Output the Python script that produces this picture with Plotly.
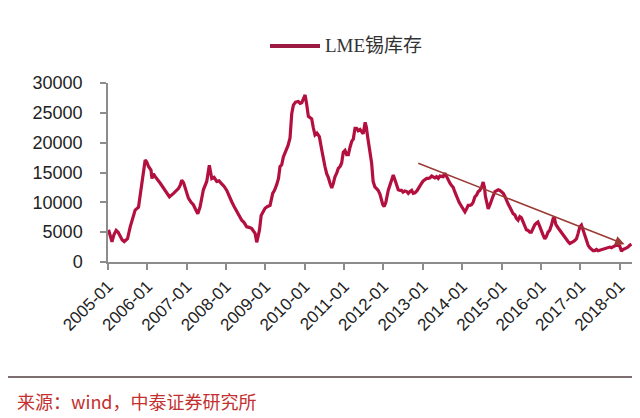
import plotly.graph_objects as go

dates = [
"2005-01-06","2005-01-22","2005-02-07","2005-02-24","2005-03-18","2005-04-05","2005-04-24","2005-05-13","2005-06-01","2005-07-01",
"2005-07-26","2005-08-17","2005-09-10","2005-10-11","2005-10-27","2005-11-12","2005-11-27","2005-12-12","2005-12-26","2006-01-12",
"2006-02-04","2006-02-13","2006-02-27","2006-03-15","2006-05-01","2006-05-31","2006-07-01","2006-07-25","2006-09-01","2006-09-25",
"2006-10-16","2006-11-01","2006-11-16","2006-12-03","2006-12-17","2007-01-17","2007-02-11","2007-03-04","2007-03-25","2007-04-14",
"2007-05-05","2007-06-05","2007-07-06","2007-07-21","2007-07-30","2007-08-22","2007-09-12","2007-10-07","2007-10-28","2007-11-22",
"2007-12-13","2008-01-08","2008-01-30","2008-02-23","2008-03-16","2008-04-10","2008-05-01","2008-05-26","2008-06-17","2008-07-11",
"2008-08-02","2008-08-27","2008-09-11","2008-09-27","2008-10-12","2008-10-25","2008-11-06","2008-11-22","2008-12-13","2008-12-28",
"2009-01-21","2009-02-13","2009-03-09","2009-03-26","2009-04-16","2009-05-02","2009-05-16","2009-06-01","2009-06-16","2009-07-02",
"2009-07-17","2009-07-29","2009-08-17","2009-09-02","2009-09-17","2009-10-07","2009-11-02","2009-11-18","2009-12-04","2009-12-18",
"2010-01-04","2010-01-18","2010-02-03","2010-02-19","2010-03-06","2010-03-21","2010-04-06","2010-04-24","2010-05-16","2010-06-07",
"2010-06-21","2010-07-07","2010-07-23","2010-08-07","2010-08-23","2010-09-08","2010-09-23","2010-10-08","2010-10-24","2010-11-08",
"2010-11-24","2010-12-09","2010-12-24","2011-01-09","2011-01-24","2011-02-09","2011-02-24","2011-03-12","2011-03-27","2011-04-12",
"2011-04-27","2011-05-12","2011-05-28","2011-06-12","2011-06-27","2011-07-15","2011-07-26","2011-08-07","2011-08-23","2011-09-13",
"2011-09-27","2011-10-13","2011-10-29","2011-11-13","2011-11-29","2011-12-14","2011-12-26","2012-01-08","2012-01-23","2012-02-14",
"2012-03-01","2012-03-19","2012-04-01","2012-04-16","2012-05-02","2012-05-17","2012-06-02","2012-06-17","2012-07-01","2012-07-18",
"2012-08-04","2012-08-18","2012-09-03","2012-09-19","2012-10-03","2012-10-19","2012-11-09","2012-12-04","2012-12-20","2013-01-04",
"2013-01-20","2013-02-05","2013-02-20","2013-03-07","2013-03-23","2013-04-07","2013-04-22","2013-05-08","2013-05-23","2013-06-08",
"2013-06-24","2013-07-08","2013-07-24","2013-08-09","2013-08-24","2013-09-09","2013-09-24","2013-10-09","2013-10-25","2013-11-15",
"2013-12-03","2013-12-26","2014-01-10","2014-01-26","2014-02-10","2014-02-25","2014-03-13","2014-03-28","2014-04-12","2014-04-28",
"2014-05-14","2014-05-29","2014-06-13","2014-06-29","2014-07-14","2014-07-26","2014-08-04","2014-08-15","2014-08-30","2014-09-15",
"2014-09-30","2014-10-15","2014-10-31","2014-11-16","2014-12-01","2014-12-16","2015-01-01","2015-01-16","2015-02-01","2015-02-16",
"2015-03-03","2015-03-18","2015-04-03","2015-04-18","2015-05-04","2015-05-18","2015-06-03","2015-06-19","2015-07-04","2015-07-19",
"2015-08-04","2015-08-19","2015-09-03","2015-09-19","2015-10-04","2015-10-19","2015-11-04","2015-11-19","2015-12-04","2015-12-20",
"2016-01-06","2016-01-21","2016-02-06","2016-02-21","2016-03-07","2016-03-22","2016-04-08","2016-04-23","2016-05-04","2016-05-18",
"2016-06-09","2016-06-25","2016-07-10","2016-07-25","2016-08-10","2016-08-26","2016-09-10","2016-09-25","2016-10-11","2016-10-26",
"2016-11-10","2016-11-26","2016-12-11","2016-12-27","2017-01-11","2017-01-26","2017-02-11","2017-02-27","2017-03-14","2017-03-29",
"2017-04-14","2017-04-29","2017-05-15","2017-05-30","2017-06-14","2017-07-01","2017-07-16","2017-07-31","2017-08-16","2017-09-01",
"2017-09-15","2017-10-01","2017-10-16","2017-10-31","2017-11-16","2017-12-01","2017-12-16","2018-01-01","2018-01-17","2018-02-01",
"2018-02-17","2018-03-04","2018-03-19","2018-04-04","2018-04-20",
]

stock = [
5400,4300,3400,4500,5300,5000,4200,3700,3400,3900,
5900,7300,8700,9200,11200,13200,14900,17100,16800,16000,
15400,14000,14800,14300,13200,12400,11500,10900,11500,11900,
12300,12800,13700,13300,12400,10700,10000,9600,8800,8100,
9200,12100,13500,15800,16200,14000,14200,13500,13600,13100,
12700,12000,11000,10100,9300,8400,7700,7000,6600,5900,
5800,5600,5200,4800,3300,4200,5300,7800,8700,9000,
9300,9500,11500,12000,13000,14000,16000,16300,17600,18300,
18900,19500,20800,24900,26300,26800,26900,26600,26700,27300,
28000,26500,24400,24200,24000,22500,21300,21600,21000,18800,
17200,16000,14800,14200,13200,12400,13200,14300,14900,15700,
16000,16600,18400,18700,18000,18000,19200,20200,20600,22400,
22400,22000,22200,21800,21500,23400,22600,21000,19000,16600,
13500,12600,12300,12000,11400,10200,9600,9300,10000,12000,
13000,14000,14600,13800,13100,12100,12000,12000,11700,11900,
11800,11500,11800,12000,11500,11600,12000,12900,13200,13600,
13800,14000,14000,14100,14400,14300,14100,14300,14000,14400,
14300,14300,14900,14300,13500,13200,12800,12500,11700,10700,
10000,9300,8900,8400,8900,9500,9500,9600,10000,10900,
11200,11800,12000,12500,13400,12500,11000,10000,8900,9600,
10500,11100,11800,12000,12100,12000,11800,11500,11000,10200,
9700,9200,8700,8100,7900,7300,7000,7600,7400,6700,
6000,5400,5300,5000,5000,5700,6200,6500,6700,6000,
5100,4500,3900,4300,5000,5300,6200,7300,7500,6300,
5700,5300,5000,4600,4000,3800,3400,3100,3200,3400,
3600,3900,4800,5900,6200,5300,4200,3500,2800,2400,
2100,1900,1900,2100,1900,2000,2100,2200,2200,2300,
2400,2500,2400,2600,2700,2800,2800,2700,1800,2100,
2200,2300,2500,2800,3000,
]

y_ticks = [0, 5000, 10000, 15000, 20000, 25000, 30000]
series_name = "LME锡库存"
source_text = "来源：wind，中泰证券研究所"
trend_start = ("2012-11-05", 16650)
trend_end = ("2018-02-15", 2980)

LINE = "#b3103f"
AX = "#8c8c8c"

# page has an 8px body margin, so the figure is drawn 8px smaller and offset
W, H = 632, 410
L, T, R, B = 100, 75, 8, 156
PW, PH = W - L - R, H - T - B

def px(x):
    return (x - 8 - L) / PW

def py(y):
    return (H - B - (y - 8)) / PH

fig = go.Figure()
fig.add_trace(go.Scatter(
    x=dates, y=stock, mode="lines", name=series_name,
    line=dict(color=LINE, width=3.2), showlegend=False,
))

fig.update_layout(
    width=W, height=H,
    margin=dict(l=L, r=R, t=T, b=B, autoexpand=False),
    paper_bgcolor="white", plot_bgcolor="white",
    font=dict(family="Liberation Sans, Arial, sans-serif", size=17, color="#222222"),
    xaxis=dict(
        type="date", range=["2005-01-01", "2018-04-25"],
        tick0="2005-01-01", dtick="M12", tickformat="%Y-%m",
        tickangle=-45, ticks="outside", ticklen=6, tickcolor=AX, tickwidth=1.5,
        showline=True, linecolor=AX, linewidth=1.5, showgrid=False, zeroline=False,
        tickfont=dict(size=17, color="#222222"),
    ),
    yaxis=dict(
        range=[0, 30000], tickvals=y_ticks, tickformat="d", ticks="outside", ticklen=6,
        tickcolor=AX, tickwidth=1.5, showline=True, linecolor=AX, linewidth=1.5,
        showgrid=False, zeroline=False, ticklabelstandoff=14,
        tickfont=dict(size=18, color="#222222"),
    ),
)

# trend arrow
fig.add_annotation(
    x=trend_end[0], y=trend_end[1], ax=trend_start[0], ay=trend_start[1],
    xref="x", yref="y", axref="x", ayref="y", text="",
    showarrow=True, arrowhead=2, arrowsize=1.2, arrowwidth=1.6, arrowcolor="#9a3b36",
)

# legend (manual)
fig.add_shape(type="line", xref="paper", yref="paper",
              x0=px(270), x1=px(320), y0=py(46), y1=py(46),
              line=dict(color="#9c1a44", width=4))
fig.add_annotation(xref="paper", yref="paper", x=px(323), y=py(46),
                   xanchor="left", yanchor="middle", showarrow=False, text=series_name,
                   font=dict(family="Liberation Serif, Noto Sans CJK SC, serif", size=19, color="#333333"))

# bottom rule and source
fig.add_shape(type="line", xref="paper", yref="paper",
              x0=px(2), x1=px(635), y0=py(377), y1=py(377),
              line=dict(color="#7d6f70", width=2))
fig.add_annotation(xref="paper", yref="paper", x=px(15), y=py(401),
                   xanchor="left", yanchor="middle", showarrow=False, text=source_text,
                   font=dict(family="Noto Sans CJK SC, sans-serif", size=18, color="#c3302f"))

fig.write_html("out.html")
